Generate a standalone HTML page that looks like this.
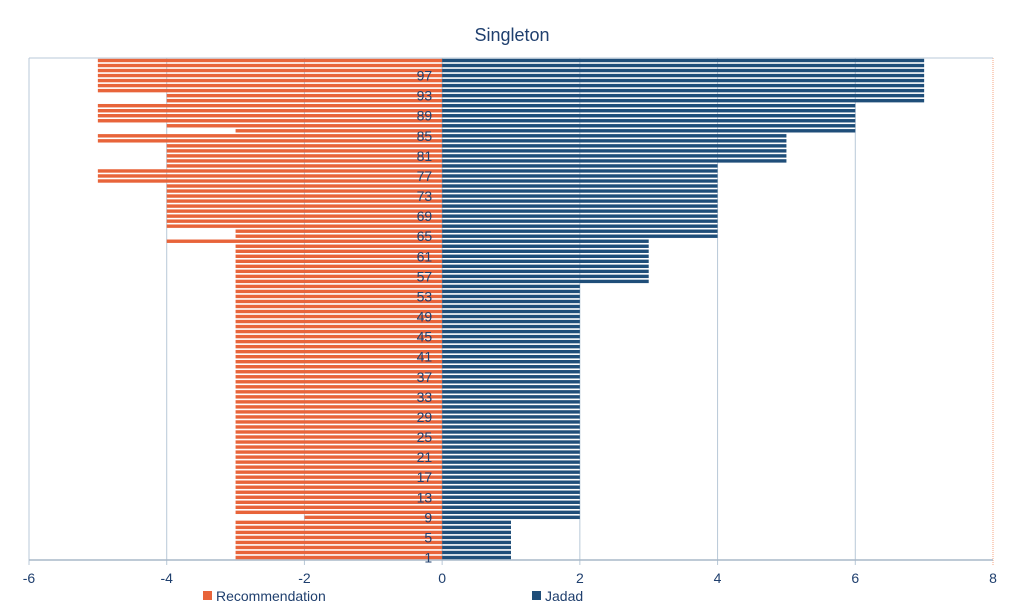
<!DOCTYPE html>
<html><head><meta charset="utf-8"><style>
body{margin:0;background:#fff;}
svg{display:block;font-family:"Liberation Sans",sans-serif;}
</style></head><body>
<svg id="chart" width="1024" height="612">
<text x="512" y="41" text-anchor="middle" font-size="18" fill="#1f3f6e">Singleton</text>
<g id="grid"></g><g id="bars"></g><g id="labels"></g><g id="xticks"></g>
<g>
<rect x="203" y="591" width="9" height="9" fill="#e8643a"/>
<text x="216" y="601" font-size="14" fill="#1f3f6e">Recommendation</text>
<rect x="532" y="591" width="9" height="9" fill="#1f4e79"/>
<text x="545" y="601" font-size="14" fill="#1f3f6e">Jadad</text>
</g>
</svg>
<script>
const categories = Array.from({length:100},(_,i)=>i+1);
const recommendation = [-3,-3,-3,-3,-3,-3,-3,-3,-2,-3,
-3,-3,-3,-3,-3,-3,-3,-3,-3,-3,
-3,-3,-3,-3,-3,-3,-3,-3,-3,-3,
-3,-3,-3,-3,-3,-3,-3,-3,-3,-3,
-3,-3,-3,-3,-3,-3,-3,-3,-3,-3,
-3,-3,-3,-3,-3,-3,-3,-3,-3,-3,
-3,-3,-3,-4,-3,-3,-4,-4,-4,-4,
-4,-4,-4,-4,-4,-5,-5,-5,-4,-4,
-4,-4,-4,-5,-5,-3,-4,-5,-5,-5,
-5,-4,-4,-5,-5,-5,-5,-5,-5,-5];
const jadad = [1,1,1,1,1,1,1,1,2,2,
2,2,2,2,2,2,2,2,2,2,
2,2,2,2,2,2,2,2,2,2,
2,2,2,2,2,2,2,2,2,2,
2,2,2,2,2,2,2,2,2,2,
2,2,2,2,2,3,3,3,3,3,
3,3,3,3,4,4,4,4,4,4,
4,4,4,4,4,4,4,4,4,5,
5,5,5,5,5,6,6,6,6,6,
6,7,7,7,7,7,7,7,7,7];
const xTicks = [-6,-4,-2,0,2,4,6,8];
const NS="http://www.w3.org/2000/svg";
const L=29,R=993,T=58,B=560,xmin=-6,xmax=8;
const xs=v=>L+(v-xmin)/(xmax-xmin)*(R-L);
const band=(B-T)/categories.length;
const yTop=i=>B-(i+1)*band;
function mk(tag,at,parent){const e=document.createElementNS(NS,tag);for(const k in at)e.setAttribute(k,at[k]);document.getElementById(parent).appendChild(e);return e;}
xTicks.forEach(t=>{
 const g=mk('line',{x1:xs(t),x2:xs(t),y1:T,y2:B+5,stroke:t===8?'#f4a582':'#b8c8d8','stroke-width':1,'stroke-dasharray':t===8?'1,1':'none'},'grid');
 
 
 const tx=mk('text',{x:xs(t),y:583,'text-anchor':'middle','font-size':14,fill:'#1f3f6e'},'xticks');
 tx.textContent=String(t);
 
 
});
const topBorder=mk('line',{x1:L,x2:R,y1:T,y2:T,stroke:'#b8c8d8'},'grid');


const ax=mk('line',{x1:L,x2:R,y1:B,y2:B,stroke:'#a8b8c8','stroke-width':1.5},'grid');


categories.forEach((c,i)=>{
 const y=yTop(i)+0.8,h=band-1.6;
 const r=recommendation[i],j=jadad[i];
 const a=mk('rect',{x:xs(r),y:y,width:xs(0)-xs(r),height:h,fill:'#e8643a'},'bars');
 
 
 const b=mk('rect',{x:xs(0),y:y,width:xs(j)-xs(0),height:h,fill:'#1f4e79'},'bars');
 
 
 if((c-1)%4===0){
  const t=mk('text',{x:xs(0)-10,y:yTop(i)+band/2+5,'text-anchor':'end','font-size':14,fill:'#1f3f6e'},'labels');
  t.textContent=String(c);
  
  
 }
});
</script>
</body></html>
